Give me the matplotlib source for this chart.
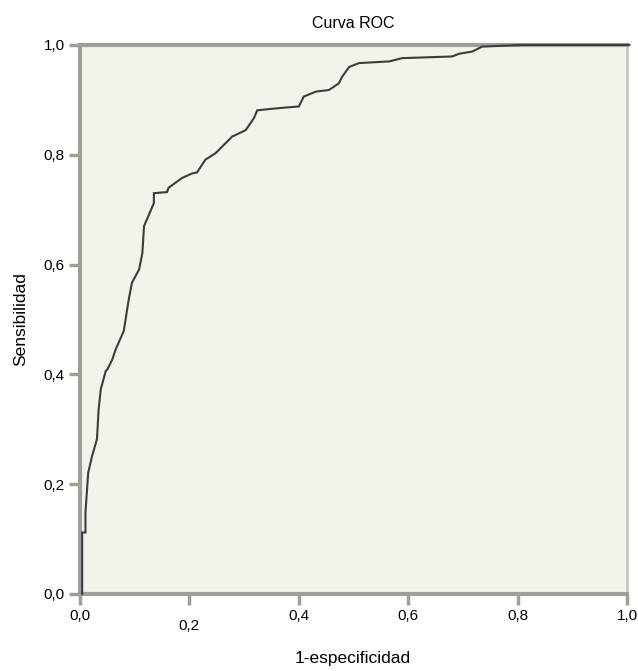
import matplotlib
matplotlib.use("Agg")
import matplotlib.pyplot as plt
from matplotlib.ticker import FuncFormatter

plt.rcParams['font.family'] = ['Liberation Sans', 'DejaVu Sans']

# ROC curve points (1-especificidad, sensibilidad)
fpr = [0.000, 0.000, 0.006, 0.006, 0.011, 0.018, 0.027, 0.030, 0.034, 0.043,
       0.046, 0.055, 0.061, 0.076, 0.085, 0.091, 0.104, 0.110, 0.113, 0.131,
       0.131, 0.155, 0.158, 0.183, 0.201, 0.210, 0.225, 0.244, 0.274, 0.299,
       0.314, 0.320, 0.360, 0.396, 0.405, 0.427, 0.451, 0.469, 0.475, 0.488,
       0.506, 0.561, 0.585, 0.676, 0.689, 0.713, 0.725, 0.731, 0.804, 1.000]
tpr = [0.000, 0.112, 0.112, 0.149, 0.221, 0.251, 0.282, 0.336, 0.373, 0.406,
       0.409, 0.427, 0.445, 0.479, 0.536, 0.567, 0.591, 0.621, 0.670, 0.712,
       0.730, 0.732, 0.740, 0.758, 0.766, 0.768, 0.791, 0.803, 0.833, 0.845,
       0.867, 0.881, 0.885, 0.888, 0.906, 0.915, 0.918, 0.930, 0.942, 0.960,
       0.967, 0.970, 0.976, 0.979, 0.984, 0.988, 0.994, 0.997, 1.000, 1.000]

ticks = [0.0, 0.2, 0.4, 0.6, 0.8, 1.0]

fig = plt.figure(figsize=(6.38, 6.71), dpi=100)
ax = fig.add_axes([0.1254, 0.1148, 0.8576, 0.8182])
ax.set_facecolor('#f5f2ec')

# tiny x shift so the vertical start stays visible next to the spine
ax.plot([x + 0.004 for x in fpr], tpr, color='#3c3c3c', linewidth=1.5,
        solid_joinstyle='miter', clip_on=False, zorder=5)

ax.set_xlim(0, 1)
ax.set_ylim(0, 1)
ax.set_xticks(ticks)
ax.set_yticks(ticks)
comma = FuncFormatter(lambda v, p: ('%.1f' % v).replace('.', ','))
ax.xaxis.set_major_formatter(comma)
ax.yaxis.set_major_formatter(comma)
ax.tick_params(direction='out', length=8, width=2.5, color='#a09e98',
               labelsize=11, pad=3)

for side in ['left', 'bottom', 'top']:
    ax.spines[side].set_color('#a09e98')
    ax.spines[side].set_linewidth(3)
ax.spines['right'].set_color('#c8c6c0')
ax.spines['right'].set_linewidth(2)

# the 0,2 label sits lower than the others in the original
for lab in ax.get_xticklabels():
    if lab.get_text() == '0,2':
        lab.set_y(-0.018)

ax.set_title('Curva ROC', fontsize=11.5, pad=12)
ax.set_ylabel('Sensibilidad', fontsize=12.5, labelpad=11)
fig.text(0.553, 1 - 659 / 671, '1-especificidad', fontsize=12.5,
         ha='center', va='center')

fig.savefig('out.png', dpi=100)
